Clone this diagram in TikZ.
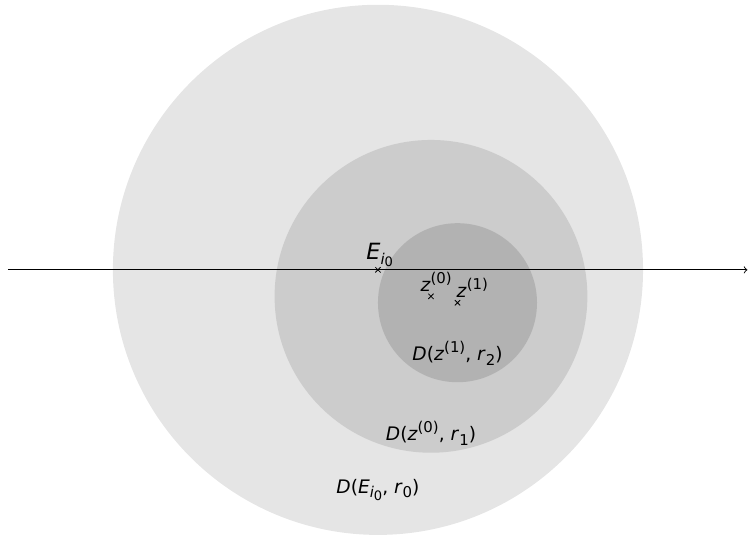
\documentclass[tikz,border=0pt]{standalone}
\usepackage{fontspec}
\setmainfont{DejaVu Sans}
\usepackage{xcolor}
\usetikzlibrary{positioning, shapes.misc}
\definecolor{disc0}{gray}{0.90}
\definecolor{disc1}{gray}{0.80}
\definecolor{disc2}{gray}{0.70}
\newcommand{\vr}[1]{\textit{#1}}
\newcommand{\sps}[1]{\raisebox{0.85ex}{\footnotesize #1}}
\newcommand{\sbs}[1]{\raisebox{-0.45ex}{\footnotesize #1}}
\newcommand{\Ei}{\vr{E}\sbs{\vr{i}\raisebox{-0.3ex}{\scriptsize 0}}}

\begin{document}
\begin{tikzpicture}[centremark/.style={draw, cross out, minimum size=2.4pt, inner sep=0pt, line width=0.45pt},
                    lbl/.style={inner sep=0pt, anchor=base west}]
  \useasboundingbox (-7.13,-5.0) rectangle (6.98,5.09);
  % Centres of the three discs.
  \coordinate (E) at (0,0);
  \coordinate (z0) at (1,-0.5);
  \coordinate (z1) at (1.5,-0.62);

  % Nested discs, outer to inner.
  \fill[disc0] (E) circle (5);
  \fill[disc1] (z0) circle (2.95);
  \fill[disc2] (z1) circle (1.5);

  % The real axis.
  \draw[->, line width=0.5pt] (-6.98,0) coordinate (xl) -- (6.97,0) coordinate (xr);

  % Centre marks and their labels.
  \node[centremark] (mE) at (E) {};
  \node[centremark] (mz0) at (z0) {};
  \node[centremark] (mz1) at (z1) {};
  \node[lbl, font=\large] at ([xshift=-6.4pt, yshift=5.8pt]E) {\Ei};
  \node[lbl] at ([xshift=-5.8pt, yshift=2.4pt]z0) {\vr{z}\sps{(0)}};
  \node[lbl] at ([xshift=-0.6pt, yshift=2.6pt]z1) {\vr{z}\sps{(1)}};

  % Disc names.
  \node (d2) at (1.5,-1.57) {\vr{D}(\vr{z}\sps{(1)}, \vr{r}\sbs{2})};
  \node (d1) at (1,-3.08) {\vr{D}(\vr{z}\sps{(0)}, \vr{r}\sbs{1})};
  \node (d0) at (0,-4.15) {\vr{D}(\Ei, \vr{r}\sbs{0})};
\end{tikzpicture}
\end{document}
